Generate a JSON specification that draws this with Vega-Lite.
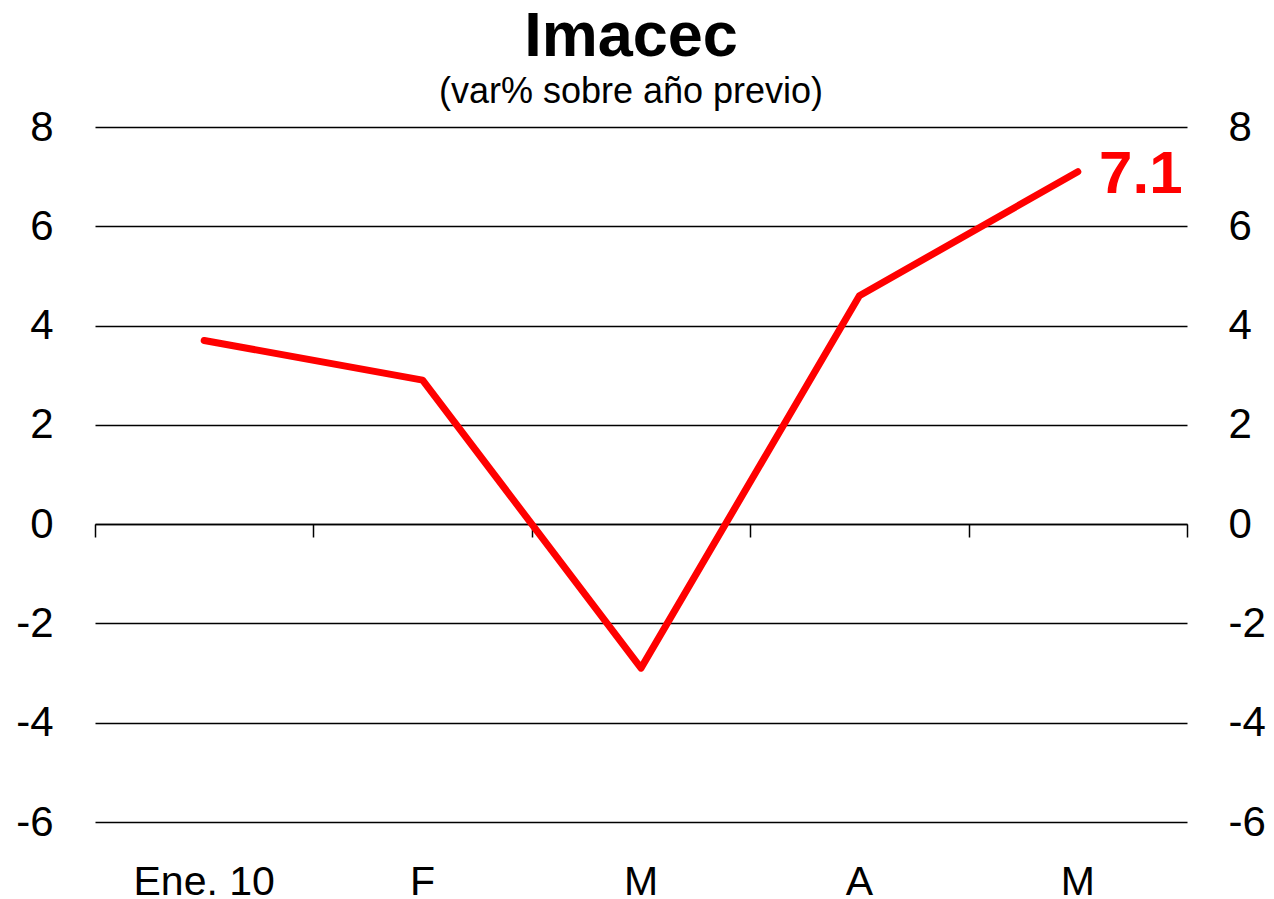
{
  "$schema": "https://vega.github.io/schema/vega-lite/v6.json",
  "width": 1092,
  "height": 695,
  "autosize": "none",
  "padding": {"left": 95, "top": 127, "right": 87, "bottom": 77},
  "background": "white",
  "config": {"view": {"stroke": null}, "font": "Liberation Sans"},
  "title": {
    "text": "Imacec",
    "subtitle": "(var% sobre año previo)",
    "font": "Liberation Sans",
    "fontSize": 63,
    "fontWeight": "bold",
    "color": "black",
    "subtitleFont": "Liberation Sans",
    "subtitleFontSize": 36,
    "subtitleColor": "black",
    "subtitlePadding": 6,
    "anchor": "middle",
    "dx": -10,
    "offset": -4
  },
  "data": {
    "values": [
      {"mes": "Ene. 10", "valor": 3.7, "etiqueta": ""},
      {"mes": "Feb", "valor": 2.9, "etiqueta": ""},
      {"mes": "Mar", "valor": -2.9, "etiqueta": ""},
      {"mes": "Abr", "valor": 4.6, "etiqueta": ""},
      {"mes": "May", "valor": 7.1, "etiqueta": "7.1"}
    ]
  },
  "layer": [
    {
      "mark": {"type": "line", "color": "#ff0000", "strokeWidth": 7, "strokeCap": "round", "strokeJoin": "round"},
      "encoding": {
        "x": {
          "field": "mes", "type": "ordinal", "sort": null, "bandPosition": 0.5,
          "scale": {"type": "band", "paddingInner": 0, "paddingOuter": 0},
          "axis": {
            "title": null, "domain": false, "ticks": false, "labelAngle": 0,
            "labelFontSize": 41, "labelColor": "black", "labelPadding": 40,
            "labelFont": "Liberation Sans",
            "labelExpr": "datum.label == 'Ene. 10' ? datum.label : substring(datum.label, 0, 1)"
          }
        },
        "y": {
          "field": "valor", "type": "quantitative",
          "scale": {"domain": [-6, 8], "nice": false, "zero": false},
          "axis": {
            "title": null, "orient": "left", "values": [-6, -4, -2, 0, 2, 4, 6, 8],
            "domain": false, "ticks": false, "grid": true, "gridColor": "black",
            "gridWidth": 1.5, "gridOpacity": 1, "labelFontSize": 42, "labelColor": "black",
            "labelPadding": 42, "labelFont": "Liberation Sans",
            "labelExpr": "datum.value < 0 ? '-' + abs(datum.value) : '' + datum.value"
          }
        }
      }
    },
    {
      "mark": {"type": "text", "color": "#ff0000", "fontSize": 60, "fontWeight": "bold", "font": "Liberation Sans", "align": "center", "baseline": "middle", "dx": 63, "dy": 3},
      "encoding": {
        "x": {
          "field": "mes", "type": "ordinal", "sort": null, "bandPosition": 0.5,
          "axis": {
            "title": null, "orient": "bottom", "offset": -298, "labels": false,
            "domain": true, "domainColor": "black", "domainWidth": 1.5,
            "ticks": true, "tickBand": "extent", "tickSize": 13, "tickColor": "black", "tickWidth": 1.5
          }
        },
        "y": {
          "field": "valor", "type": "quantitative",
          "axis": {
            "title": null, "orient": "right", "values": [-6, -4, -2, 0, 2, 4, 6, 8],
            "domain": false, "ticks": false, "grid": false, "labelFontSize": 42,
            "labelColor": "black", "labelPadding": 41, "labelFont": "Liberation Sans",
            "labelExpr": "datum.value < 0 ? '-' + abs(datum.value) : '' + datum.value"
          }
        },
        "text": {"field": "etiqueta"}
      }
    }
  ],
  "resolve": {"axis": {"x": "independent", "y": "independent"}}
}
